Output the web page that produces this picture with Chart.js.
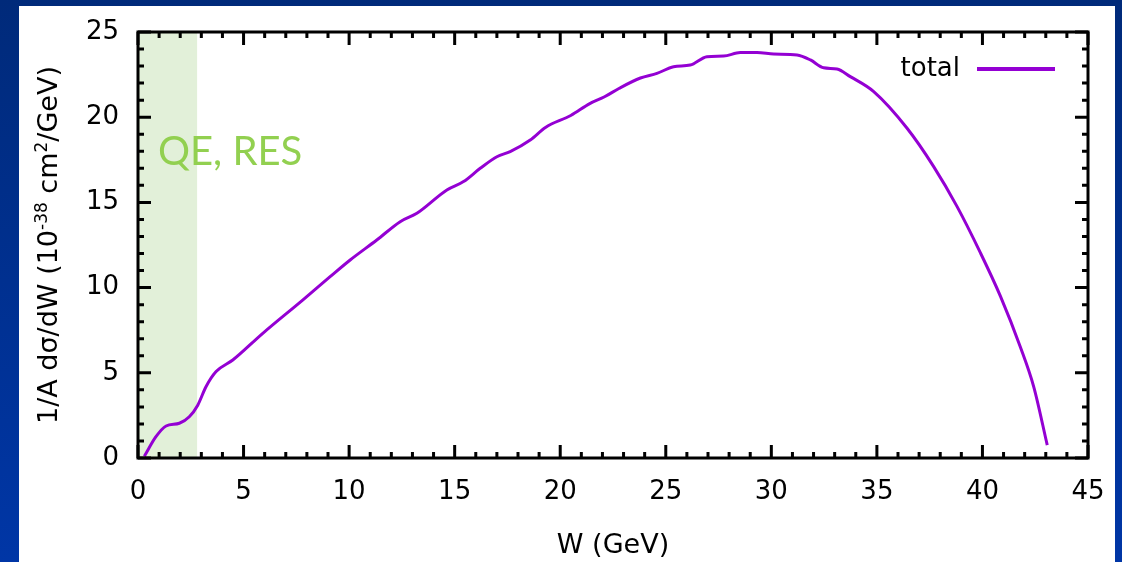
<!DOCTYPE html>
<html>
<head>
<meta charset="utf-8">
<script src="https://cdn.jsdelivr.net/npm/chart.js@4"></script>
<style>
  html, body { margin: 0; padding: 0; }
  body {
    width: 1122px; height: 562px; overflow: hidden;
    background: linear-gradient(#002a7a, #0036a6);
  }
  #panel {
    position: absolute; left: 19px; top: 6px;
    width: 1096px; height: 556px; background: #fff;
  }
</style>
</head>
<body>
<div id="panel"><canvas id="myChart" width="1096" height="556"></canvas></div>
<script>
// W (GeV) and 1/A dsigma/dW values
const wValues = [0.3, 0.85, 1.33, 1.96, 2.43, 2.83, 3.22, 3.7, 4.49, 5.91, 7.8, 9.1, 10.05, 11.31, 12.42, 13.21,
  14.63, 15.42, 16.21, 17.0, 17.63, 18.58, 19.3, 20.5, 21.4, 22.1, 22.8, 23.8, 24.58, 25.37, 26.16, 26.95,
  27.74, 28.53, 29.32, 30.11, 31.22, 31.85, 32.48, 33.11, 33.74, 34.85, 36.43, 37.69, 38.8, 39.9, 40.85,
  41.8, 42.43, 43.07];
const totalValues = [0.1, 1.25, 1.88, 2.04, 2.42, 3.1, 4.18, 5.07, 5.75, 7.32, 9.27, 10.64, 11.62, 12.79, 13.87, 14.36,
  15.73, 16.22, 17.0, 17.68, 17.98, 18.66, 19.4, 20.1, 20.8, 21.2, 21.7, 22.3, 22.57, 22.96, 23.06, 23.55,
  23.59, 23.79, 23.79, 23.71, 23.65, 23.36, 22.9, 22.83, 22.38, 21.5, 19.35, 17.1, 14.75, 12.05, 9.5,
  6.5, 4.18, 0.76];
const xTicks = [0, 5, 10, 15, 20, 25, 30, 35, 40, 45];
const yTicks = [0, 5, 10, 15, 20, 25];
const qeResRange = [0, 2.8];

const purple = 'rgb(148, 0, 211)';
const FONT = 'DejaVu Sans';

const points = wValues.map((w, i) => ({ x: w, y: totalValues[i] }));

// green band + label behind the curve
const bandPlugin = {
  id: 'band',
  beforeDatasetsDraw(chart) {
    const { ctx, chartArea, scales } = chart;
    const x0 = scales.x.getPixelForValue(qeResRange[0]);
    const x1 = scales.x.getPixelForValue(qeResRange[1]);
    ctx.save();
    ctx.fillStyle = '#e2f0d9';
    ctx.fillRect(x0, chartArea.top, x1 - x0, chartArea.bottom - chartArea.top);
    ctx.fillStyle = '#92d050';
    ctx.font = '40px Lato';
    ctx.textBaseline = 'alphabetic';
    ctx.fillText('QE, RES', chartArea.left + 20, chartArea.top + 133);
    ctx.restore();
  }
};

// frame with inward ticks on all four sides, key, y title with superscripts
const framePlugin = {
  id: 'frame',
  afterDraw(chart) {
    const { ctx, chartArea: a, scales } = chart;
    ctx.save();
    ctx.strokeStyle = '#000';
    ctx.lineWidth = 3;
    ctx.beginPath();
    for (let v = 0; v <= 45; v++) {
      const px = scales.x.getPixelForValue(v);
      const len = v % 5 === 0 ? 13 : 6;
      ctx.moveTo(px, a.bottom); ctx.lineTo(px, a.bottom - len);
      ctx.moveTo(px, a.top); ctx.lineTo(px, a.top + len);
    }
    for (let v = 0; v <= 25; v++) {
      const py = scales.y.getPixelForValue(v);
      const len = v % 5 === 0 ? 13 : 6;
      ctx.moveTo(a.left, py); ctx.lineTo(a.left + len, py);
      ctx.moveTo(a.right, py); ctx.lineTo(a.right - len, py);
    }
    ctx.stroke();
    ctx.strokeRect(a.left, a.top, a.right - a.left, a.bottom - a.top);

    // key
    const ky = a.top + 37;
    ctx.fillStyle = '#000';
    ctx.font = '26px ' + FONT;
    ctx.textAlign = 'right';
    ctx.textBaseline = 'middle';
    ctx.fillText('total', a.right - 128, ky);
    ctx.strokeStyle = purple;
    ctx.lineWidth = 4;
    ctx.beginPath();
    ctx.moveTo(a.right - 111, ky);
    ctx.lineTo(a.right - 33, ky);
    ctx.stroke();

    // y axis title
    const parts = [
      ['1/A dσ/dW (10', false], ['-38', true], [' cm', false], ['2', true], ['/GeV)', false]
    ];
    const big = '27px ' + FONT, small = '17px ' + FONT;
    let total = 0;
    parts.forEach(([t, sup]) => { ctx.font = sup ? small : big; total += ctx.measureText(t).width; });
    ctx.translate(a.left - 90, (a.top + a.bottom) / 2);
    ctx.rotate(-Math.PI / 2);
    ctx.textAlign = 'left';
    ctx.textBaseline = 'alphabetic';
    ctx.fillStyle = '#000';
    let x = -total / 2;
    parts.forEach(([t, sup]) => {
      ctx.font = sup ? small : big;
      ctx.fillText(t, x, sup ? -1 : 9);
      x += ctx.measureText(t).width;
    });
    ctx.restore();
  }
};

function noPad(s) {
  s.paddingLeft = 0; s.paddingRight = 0; s.paddingTop = 0; s.paddingBottom = 0;
}

const config = {
  type: 'line',
  data: {
    datasets: [{
      label: 'total',
      data: points,
      borderColor: purple,
      borderWidth: 3,
      pointRadius: 0,
      fill: false,
      cubicInterpolationMode: 'monotone'
    }]
  },
  options: {
    responsive: false,
    animation: false,
    devicePixelRatio: 1,
    layout: { padding: { top: 26, right: 27, left: 0, bottom: 0 } },
    plugins: {
      legend: { display: false },
      tooltip: { enabled: false }
    },
    scales: {
      x: {
        type: 'linear',
        min: 0, max: 45,
        afterFit: (s) => { s.height = 104; noPad(s); },
        afterBuildTicks: (s) => { s.ticks = xTicks.map(v => ({ value: v })); },
        grid: { display: false, drawTicks: false },
        border: { display: false },
        ticks: { color: '#000', font: { family: FONT, size: 26 }, padding: 19, maxRotation: 0 },
        title: {
          display: true, text: 'W (GeV)', color: '#000',
          font: { family: FONT, size: 27 }, padding: { top: 0, bottom: 0 }
        }
      },
      y: {
        min: 0, max: 25,
        afterFit: (s) => { s.width = 119; noPad(s); },
        afterBuildTicks: (s) => { s.ticks = yTicks.map(v => ({ value: v })); },
        grid: { display: false, drawTicks: false },
        border: { display: false },
        ticks: { color: '#000', font: { family: FONT, size: 26 }, padding: 19 },
        title: { display: false }
      }
    }
  },
  plugins: [bandPlugin, framePlugin]
};

var myChart = new Chart(document.getElementById('myChart'), config);
</script>
</body>
</html>
